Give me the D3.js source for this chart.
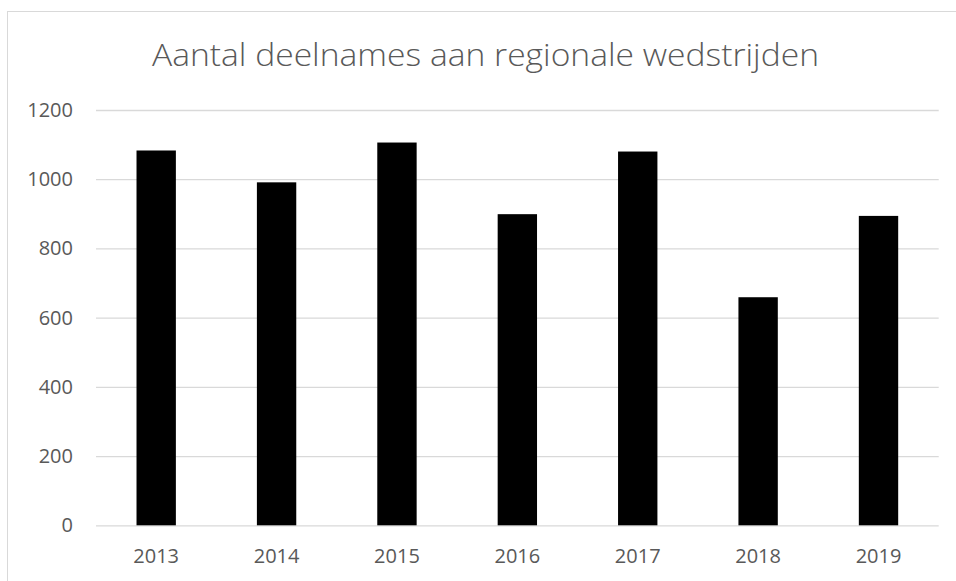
<!DOCTYPE html>
<html>
<head>
<meta charset="utf-8">
<script src="https://cdn.jsdelivr.net/npm/d3@7"></script>
<style>
  html, body { margin: 0; padding: 0; background: #fff; }
  svg { display: block; }
</style>
</head>
<body>
<svg id="chart" width="956" height="581"></svg>
<script>
const categories = ["2013", "2014", "2015", "2016", "2017", "2018", "2019"];
const values = [1083, 991, 1106, 899, 1080, 659, 894];
const yTicks = [0, 200, 400, 600, 800, 1000, 1200];
const title = "Aantal deelnames aan regionale wedstrijden";

const svg = d3.select("#chart");
const W = 956, H = 581;
const plot = { left: 96, right: 938.7, top: 110, bottom: 525.3 };
const textColor = "#595959";
const gridColor = "#d9d9d9";
const font = "'Open Sans', 'Liberation Sans', sans-serif";

svg.append("rect").attr("width", W).attr("height", H).attr("fill", "#fff");
svg.append("rect")
  .attr("x", 7.5).attr("y", 11.5)
  .attr("width", 1200).attr("height", 1200)
  .attr("fill", "none").attr("stroke", gridColor).attr("stroke-width", 1);

const x = d3.scaleBand()
  .domain(categories)
  .range([plot.left, plot.right])
  .paddingInner(0.673)
  .paddingOuter(0.3365);

const y = d3.scaleLinear().domain([0, 1200]).range([plot.bottom, plot.top]);

const yAxis = d3.axisLeft(y).tickValues(yTicks).tickFormat(d3.format("d"))
  .tickSize(-(plot.right - plot.left)).tickPadding(23);
const gy = svg.append("g").attr("transform", `translate(${plot.left},0)`).call(yAxis);
gy.select(".domain").remove();
gy.selectAll(".tick line").attr("stroke", gridColor).attr("stroke-width", 1.3);
gy.selectAll(".tick text")
  .attr("fill", textColor)
  .style("font-family", font)
  .style("font-size", "20px");

svg.append("g").selectAll("rect")
  .data(categories.map((c, i) => ({ c, v: values[i] })))
  .join("rect")
  .attr("x", d => x(d.c))
  .attr("y", d => y(d.v))
  .attr("width", x.bandwidth())
  .attr("height", d => y(0) - y(d.v))
  .attr("fill", "#000");

const xAxis = d3.axisBottom(x).tickSize(0).tickPadding(24);
const gx = svg.append("g").attr("transform", `translate(0,${plot.bottom})`).call(xAxis);
gx.select(".domain").remove();
gx.selectAll(".tick text")
  .attr("fill", textColor)
  .style("font-family", font)
  .style("font-size", "20px");

svg.append("text")
  .attr("x", 485.5).attr("y", 65.7)
  .attr("text-anchor", "middle")
  .attr("fill", textColor)
  .attr("textLength", 667)
  .attr("lengthAdjust", "spacingAndGlyphs")
  .style("font-family", font)
  .style("font-weight", 300)
  .style("font-size", "31px")
  .text(title);
</script>
</body>
</html>
